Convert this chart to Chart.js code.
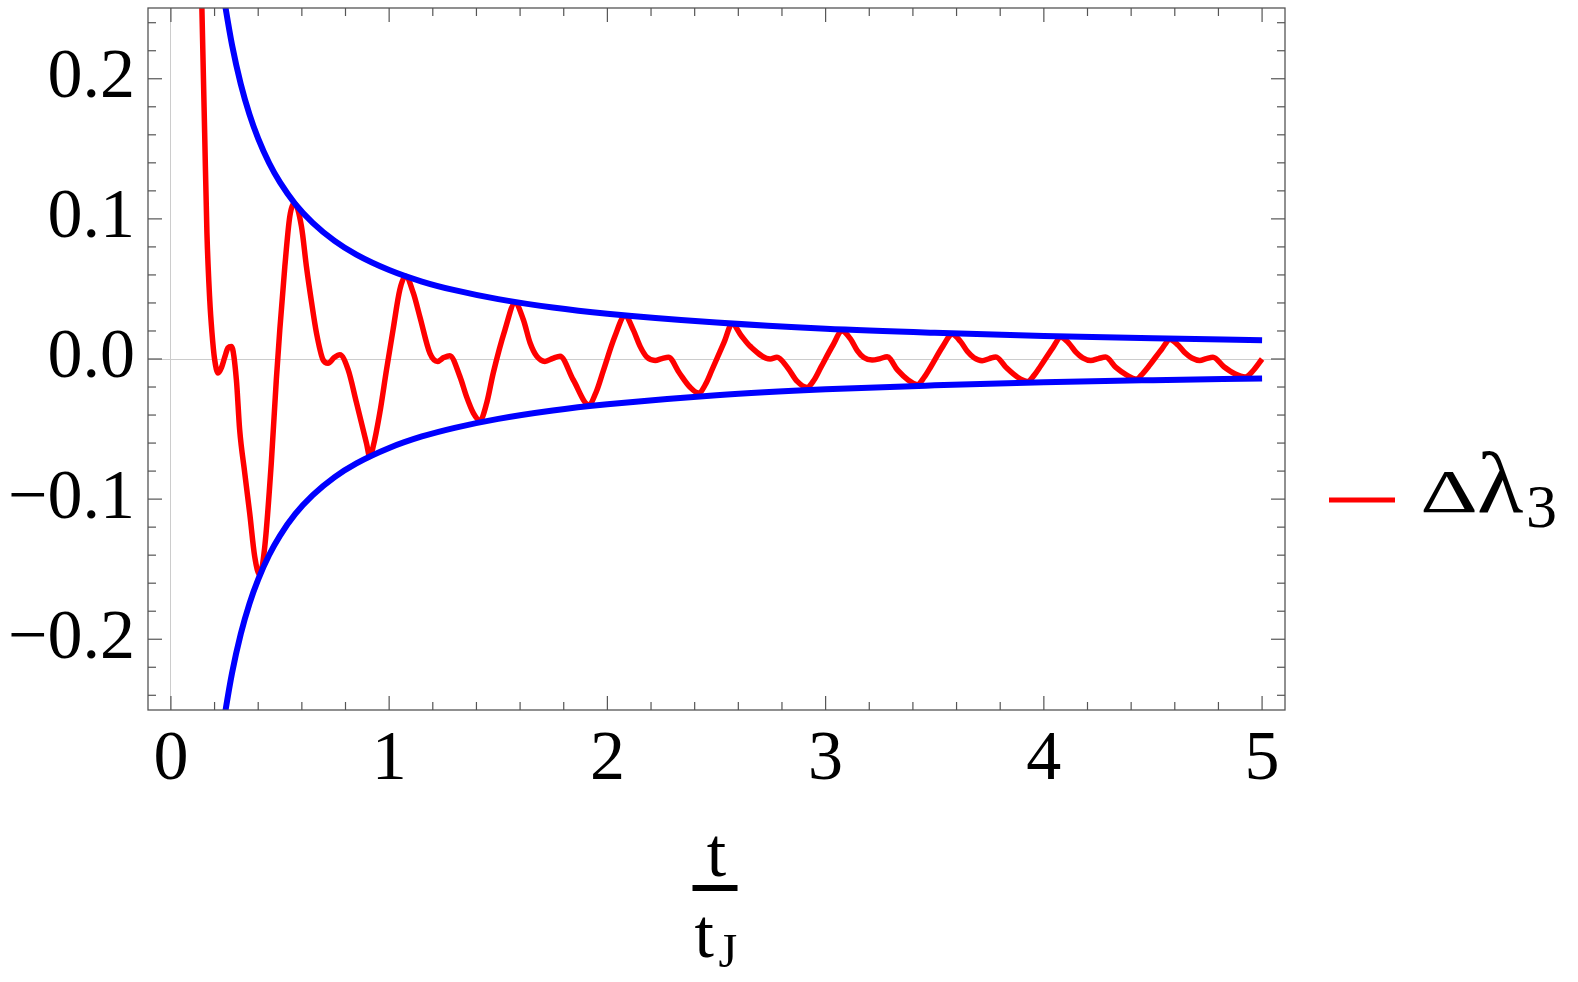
<!DOCTYPE html>
<html>
<head>
<meta charset="utf-8">
<script src="https://cdn.jsdelivr.net/npm/chart.js@4.4.1/dist/chart.umd.min.js"></script>
<style>
  html, body { margin: 0; padding: 0; background: #fff; }
  canvas { display: block; }
</style>
</head>
<body>
<canvas id="myChart1" width="1578" height="982"></canvas>
<script>
// red curve, delta lambda_3 (t / t_J , value)
var redT = [0.138, 0.142, 0.1546, 0.165, 0.178, 0.188, 0.200, 0.216, 0.232, 0.246, 0.262, 0.277,
  0.300, 0.315, 0.338, 0.361, 0.384, 0.407, 0.430, 0.460, 0.483, 0.499, 0.522, 0.545, 0.567,
  0.598, 0.621, 0.644, 0.667, 0.697, 0.720, 0.748, 0.774, 0.812, 0.850, 0.896, 0.911,
  0.927, 0.957, 0.988, 1.018, 1.049, 1.075, 1.111, 1.141, 1.187, 1.222, 1.250, 1.278,
  1.324, 1.355, 1.386, 1.416, 1.447, 1.477, 1.531, 1.577, 1.615, 1.646, 1.676, 1.714, 1.750, 1.783,
  1.844, 1.915, 1.950, 1.980, 2.034, 2.081,
  2.118, 2.150, 2.180, 2.219, 2.250, 2.280, 2.330, 2.378, 2.418, 2.450, 2.480, 2.535, 2.572,
  2.612, 2.655, 2.746, 2.777, 2.825, 2.870, 2.915, 2.947, 2.978, 3.034, 3.075,
  3.113, 3.145, 3.175, 3.213, 3.250, 3.282, 3.330, 3.378, 3.420, 3.452, 3.482, 3.537, 3.580,
  3.618, 3.650, 3.680, 3.717, 3.750, 3.780, 3.830, 3.880, 3.926, 3.956, 3.986, 4.040, 4.078,
  4.116, 4.148, 4.178, 4.215, 4.250, 4.283, 4.330, 4.380, 4.425, 4.455, 4.485, 4.540, 4.578,
  4.616, 4.648, 4.678, 4.714, 4.745, 4.775, 4.825, 4.875, 4.923, 4.955, 5.000];
var redY = [0.28, 0.25, 0.1616, 0.090, 0.042, 0.019, 0.0, -0.010, -0.006, 0.001, 0.008, 0.009,
  -0.0148, -0.0505, -0.081, -0.110, -0.141, -0.154, -0.134, -0.074, -0.0148, 0.021, 0.066, 0.102, 0.111,
  0.0947, 0.066, 0.041, 0.0186, -0.0005, -0.003, 0.001, 0.003, -0.0076, -0.031, -0.060, -0.0696,
  -0.0624, -0.0386, -0.0076, 0.021, 0.0495, 0.059, 0.047, 0.030, 0.004, -0.0017, 0.001, 0.0024,
  -0.0124, -0.027, -0.0386, -0.044, -0.0314, -0.010, 0.021, 0.040, 0.028, 0.0114, 0.002, -0.0017, 0.0005, 0.002,
  -0.015, -0.0326, -0.023, -0.009, 0.016, 0.0309,
  0.021, 0.009, 0.0015, -0.001, 0.0003, 0.0012, -0.010, -0.020, -0.0243, -0.018, -0.0075, 0.012, 0.0252,
  0.017, 0.009, 0.0, 0.0012, -0.006, -0.016, -0.0203, -0.015, -0.006, 0.010, 0.0199,
  0.0145, 0.006, 0.001, -0.0008, 0.0003, 0.0016, -0.008, -0.015, -0.0183, -0.013, -0.0055, 0.009, 0.0176,
  0.0125, 0.0053, 0.0009, -0.0012, 0.0003, 0.0015, -0.0065, -0.013, -0.016, -0.0115, -0.0048, 0.0078, 0.0156,
  0.011, 0.0047, 0.0008, -0.0011, 0.0003, 0.0014, -0.006, -0.0115, -0.0143, -0.010, -0.0043, 0.007, 0.014,
  0.0098, 0.0042, 0.0007, -0.001, 0.0003, 0.0013, -0.0055, -0.0105, -0.0128, -0.009, 0.000];

// blue envelopes
var envT = [0.245, 0.25, 0.28, 0.32, 0.36, 0.40, 0.45, 0.50, 0.57, 0.65, 0.75, 0.85, 1.0, 1.15, 1.3, 1.5,
  1.75, 2.0, 2.5, 3.0, 3.5, 4.0, 4.5, 5.0];
var envUp = [0.256, 0.251, 0.2242, 0.1963, 0.1746, 0.1573, 0.1399, 0.126, 0.1106, 0.0972, 0.0843, 0.0745,
  0.0635, 0.0553, 0.0491, 0.0427, 0.0367, 0.0323, 0.026, 0.0216, 0.0187, 0.0165, 0.0148, 0.0134];
var envLow = [-0.256, -0.251, -0.2242, -0.1963, -0.1746, -0.1573, -0.1399, -0.126, -0.1106, -0.0972, -0.0843, -0.0745,
  -0.0635, -0.0553, -0.0491, -0.0427, -0.0367, -0.0323, -0.0258, -0.0216, -0.0188, -0.0166, -0.0151, -0.0139];

var xTickValues = [0, 1, 2, 3, 4, 5];
var xTickLabels = ["0", "1", "2", "3", "4", "5"];
var xMinor = [0.2, 0.4, 0.6, 0.8, 1.2, 1.4, 1.6, 1.8, 2.2, 2.4, 2.6, 2.8, 3.2, 3.4, 3.6, 3.8, 4.2, 4.4, 4.6, 4.8];
var yTickValues = [-0.2, -0.1, 0, 0.1, 0.2];
var yTickLabels = ["\u22120.2", "\u22120.1", "0.0", "0.1", "0.2"];
var yMinor = [-0.24, -0.22, -0.18, -0.16, -0.14, -0.12, -0.08, -0.06, -0.04, -0.02,
  0.02, 0.04, 0.06, 0.08, 0.12, 0.14, 0.16, 0.18, 0.22, 0.24];

function pts(xs, ys) {
  var out = [];
  for (var i = 0; i < xs.length; i++) out.push({x: xs[i], y: ys[i]});
  return out;
}

var serif = '"Liberation Serif", "Times New Roman", serif';

// draws a glyph with its ink box at left x, given ink width / height, on baseline y
function glyph(c, ch, left, base, w, h) {
  c.font = '100px ' + serif;
  var m = c.measureText(ch);
  var gw = m.actualBoundingBoxLeft + m.actualBoundingBoxRight;
  var gh = m.actualBoundingBoxAscent;
  c.save();
  c.translate(left, base);
  c.scale(w / gw, h / gh);
  c.fillText(ch, m.actualBoundingBoxLeft, 0);
  c.restore();
}

var framePlugin = {
  id: 'frame',
  afterDraw: function(chart) {
    var c = chart.ctx, a = chart.chartArea, xs = chart.scales.x, ys = chart.scales.y;
    function line(x1, y1, x2, y2) { c.beginPath(); c.moveTo(x1, y1); c.lineTo(x2, y2); c.stroke(); }
    c.save();
    c.strokeStyle = '#555';
    c.lineWidth = 1.3;
    c.strokeRect(a.left, a.top, a.right - a.left, a.bottom - a.top);
    c.lineWidth = 1.2;
    function xt(list, len) {
      list.forEach(function(v) {
        var p = xs.getPixelForValue(v);
        line(p, a.bottom, p, a.bottom - len);
        line(p, a.top, p, a.top + len);
      });
    }
    function yt(list, len) {
      list.forEach(function(v) {
        var p = ys.getPixelForValue(v);
        line(a.left, p, a.left + len, p);
        line(a.right, p, a.right - len, p);
      });
    }
    xt(xTickValues, 14); xt(xMinor, 8);
    yt(yTickValues, 14); yt(yMinor, 8);

    // axis label t / t_J
    var cx = (a.left + a.right) / 2;
    c.fillStyle = '#000';
    c.textBaseline = 'alphabetic';
    c.textAlign = 'center';
    c.font = '70px ' + serif;
    c.fillText('t', cx, 876);
    c.fillRect(cx - 24, 885, 45, 6);
    c.textAlign = 'left';
    c.fillText('t', cx - 22, 957);
    c.font = '48px ' + serif;
    c.fillText('J', cx + 2, 967);

    // legend
    c.strokeStyle = '#ff0000';
    c.lineWidth = 5;
    line(1329, 500, 1395, 500);
    c.textAlign = 'left';
    glyph(c, '\u0394', 1423, 512, 52, 41);
    glyph(c, '\u03bb', 1479, 512, 44, 60);
    c.font = '62px ' + serif;
    c.fillText('3', 1526, 527);
    c.restore();
  }
};

var ctx1 = document.getElementById("myChart1").getContext("2d");
var myChart1 = new Chart(ctx1, {
  type: 'scatter',
  data: {
    datasets: [
      { data: pts(envT, envUp), borderColor: '#0000ff', borderWidth: 6, showLine: true, pointRadius: 0,
        cubicInterpolationMode: 'monotone', clip: 0 },
      { data: pts(envT, envLow), borderColor: '#0000ff', borderWidth: 6, showLine: true, pointRadius: 0,
        cubicInterpolationMode: 'monotone', clip: 0 },
      { data: pts(redT, redY), borderColor: '#ff0000', borderWidth: 5.5, showLine: true, pointRadius: 0,
        cubicInterpolationMode: 'monotone', clip: 0 }
    ]
  },
  options: {
    responsive: false,
    animation: false,
    devicePixelRatio: 1,
    layout: { padding: { left: 0, top: 8, right: 293, bottom: 0 } },
    plugins: { legend: { display: false }, tooltip: { enabled: false } },
    scales: {
      x: {
        type: 'linear', min: -0.105, max: 5.105,
        afterFit: function(s) { s.height = 272; s.paddingLeft = 0; s.paddingRight = 0; s.paddingTop = 0; s.paddingBottom = 0; },
        afterBuildTicks: function(s) { s.ticks = xTickValues.map(function(v) { return {value: v}; }); },
        grid: { drawTicks: false, lineWidth: 1,
          color: function(c) { return c.tick && c.tick.value === 0 ? '#cccccc' : 'rgba(0,0,0,0)'; } },
        border: { display: false },
        ticks: { padding: 9, color: '#000', font: { family: serif, size: 70 }, maxRotation: 0,
          callback: function(v) { var i = xTickValues.indexOf(v); return i < 0 ? '' : xTickLabels[i]; } }
      },
      y: {
        type: 'linear', min: -0.2505, max: 0.2505,
        afterFit: function(s) { s.width = 148; s.paddingLeft = 0; s.paddingRight = 0; s.paddingTop = 0; s.paddingBottom = 0; },
        afterBuildTicks: function(s) { s.ticks = yTickValues.map(function(v) { return {value: v}; }); },
        grid: { drawTicks: false, lineWidth: 1,
          color: function(c) { return c.tick && c.tick.value === 0 ? '#cccccc' : 'rgba(0,0,0,0)'; } },
        border: { display: false },
        ticks: { padding: 13, color: '#000', font: { family: serif, size: 70 },
          callback: function(v) { var i = yTickValues.indexOf(v); return i < 0 ? '' : yTickLabels[i]; } }
      }
    }
  },
  plugins: [framePlugin]
});
</script>
</body>
</html>
